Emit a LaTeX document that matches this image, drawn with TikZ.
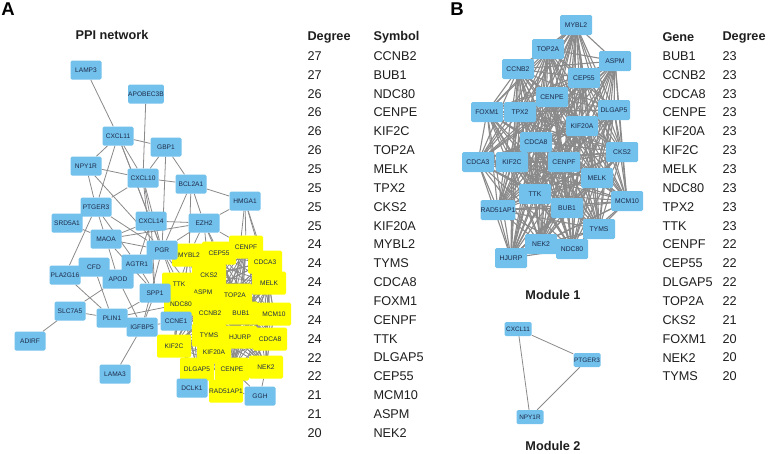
\documentclass[tikz,border=0pt]{standalone}
\usepackage{fontspec}
\setmainfont{Liberation Sans}
\usepackage{xcolor}
\definecolor{cNode}{HTML}{72C0EC}
\definecolor{cHub}{HTML}{FFFF00}
\definecolor{cEdge}{HTML}{8A8A8A}
\definecolor{cText}{HTML}{1C2A48}
\definecolor{cTab}{HTML}{1E1E1E}
\usetikzlibrary{positioning,backgrounds}
\tikzset{
  node-gene/.style={fill=cNode,rounded corners=1.5pt,inner sep=0pt,
    minimum width=31pt,minimum height=19pt,text=cText,
    font=\fontsize{6.6}{7}\selectfont},
  node-hub/.style={node-gene,fill=cHub,minimum width=34pt,minimum height=23pt},
  node-module/.style={node-gene,minimum width=32pt,minimum height=20pt,
    font=\fontsize{6.8}{7}\selectfont},
  node-small/.style={node-gene,minimum width=27pt,minimum height=14pt,
    font=\fontsize{6.4}{7}\selectfont},
  edge/.style={draw=cEdge,line width=0.8pt},
  edge-dense/.style={draw=cEdge,line width=1.1pt},
  tab-head/.style={anchor=west,text=cTab,font=\fontsize{12.7}{14}\selectfont\bfseries},
  tab-cell/.style={anchor=west,text=cTab,font=\fontsize{12.7}{14}\selectfont},
  panel-title/.style={text=cTab,font=\fontsize{12.7}{14}\selectfont\bfseries},
  panel-tag/.style={text=black,font=\fontsize{18.5}{20}\selectfont\bfseries},
}
\def\hubgenes{MYBL2,CEP55,CENPF,CDCA3,CKS2,MELK,TTK,ASPM,TOP2A,NDC80,CCNB2,BUB1,MCM10,TYMS,HJURP,CDCA8,KIF2C,KIF20A,DLGAP5,CENPE,NEK2,RAD51AP1}
\def\modgenes{MYBL2,TOP2A,ASPM,CCNB2,CEP55,CENPE,FOXM1,TPX2,DLGAP5,KIF20A,CDCA8,CKS2,CDCA3,KIF2C,CENPF,MELK,TTK,MCM10,RAD51AP1,BUB1,TYMS,NEK2,NDC80,HJURP}

\begin{document}
\begin{tikzpicture}[x=1pt,y=-1pt]
  \useasboundingbox (0,0) rectangle (774,453);

  % panel A: PPI network
  \node[panel-tag] (tagA) at (8,9) {A};
  \node[panel-title] (titleA) at (112,35) {PPI network};

  \foreach \n/\x/\y in {MYBL2/189/255,CEP55/219/253,CENPF/246/247,CDCA3/265/262,
      CKS2/209/275,MELK/269/283,TTK/179/284,ASPM/203/292,TOP2A/235/295,
      NDC80/181/304,CCNB2/210/313,BUB1/241/313,MCM10/274/314,TYMS/209/335,
      HJURP/240/337,CDCA8/270/339,KIF2C/174/346,KIF20A/214/352,DLGAP5/197/369,
      CENPE/232/369,NEK2/266/367,RAD51AP1/226/391}
    \node[node-hub] (a\n) at (\x,\y) {\n};

  \foreach \n/\x/\y in {LAMP3/86/70,APOBEC3B/146/94,CXCL11/118/136,GBP1/166/147,
      NPY1R/86/166,CXCL10/143/178,BCL2A1/191/184,HMGA1/245/201,PTGER3/96/207,
      SRD5A1/67/223,CXCL14/151/221,EZH2/204/223,MAOA/106/239,PGR/162/250,
      AGTR1/137/264,CFD/94/267,PLA2G16/65/275,APOD/118/279,SPP1/155/293,
      SLC7A5/70/311,PLIN1/112/318,IGFBP5/142/327,CCNE1/176/321,ADIRF/30/341,
      LAMA3/115/374,DCLK1/192/388,GGH/260/396}
    \node[node-gene] (a\n) at (\x,\y) {\n};

  \begin{scope}[on background layer]
    \foreach \u/\v in {LAMP3/CXCL11,APOBEC3B/CXCL10,CXCL11/GBP1,CXCL11/NPY1R,
        CXCL11/CXCL10,CXCL11/PTGER3,CXCL11/CXCL14,CXCL11/PGR,GBP1/CXCL10,
        GBP1/BCL2A1,GBP1/PGR,NPY1R/CXCL10,NPY1R/PTGER3,NPY1R/PGR,CXCL10/BCL2A1,
        CXCL10/PTGER3,CXCL10/CXCL14,CXCL10/PGR,CXCL10/SPP1,BCL2A1/HMGA1,
        BCL2A1/EZH2,BCL2A1/PGR,BCL2A1/MYBL2,HMGA1/EZH2,PTGER3/MAOA,
        PTGER3/PLA2G16,PTGER3/PGR,PTGER3/AGTR1,SRD5A1/MAOA,MAOA/CXCL14,
        MAOA/EZH2,MAOA/PGR,MAOA/APOD,MAOA/SPP1,CXCL14/PGR,CXCL14/EZH2,
        CXCL14/AGTR1,CXCL14/SPP1,EZH2/PGR,AGTR1/APOD,AGTR1/SPP1,AGTR1/PGR,
        CFD/PLIN1,CFD/APOD,PLA2G16/PLIN1,APOD/SLC7A5,APOD/IGFBP5,APOD/PGR,
        SPP1/IGFBP5,SPP1/PLIN1,SLC7A5/PLIN1,SLC7A5/ADIRF,PLIN1/NDC80,
        IGFBP5/LAMA3,IGFBP5/PGR,IGFBP5/CCNE1,PGR/MYBL2,PGR/TTK,PGR/NDC80,
        PGR/CCNB2,SPP1/TTK,SPP1/NDC80,EZH2/MYBL2,EZH2/CEP55,EZH2/CKS2,
        EZH2/CENPF,EZH2/TOP2A,HMGA1/CENPF,HMGA1/CDCA3,HMGA1/MELK,HMGA1/TOP2A,
        CCNE1/NDC80,CCNE1/KIF2C,CCNE1/TTK,CCNE1/TYMS,DCLK1/DLGAP5,DCLK1/KIF20A,
        GGH/NEK2,GGH/CENPE,GGH/RAD51AP1}
      \draw[edge] (a\u) -- (a\v);
    % hub genes all linked
    \foreach \u [count=\i] in \hubgenes {
      \foreach \v [count=\j] in \hubgenes {
        \ifnum\j>\i \draw[edge] (a\u.center) -- (a\v.center); \fi
      }
    }
  \end{scope}

  % degree table
  \node[tab-head] (hDeg) at (304,37) {Degree};
  \node[tab-head] (hSym) at (370,37) {Symbol};
  \foreach \d/\g [count=\i from 0] in {27/CCNB2,27/BUB1,26/NDC80,26/CENPE,
      26/KIF2C,26/TOP2A,25/MELK,25/TPX2,25/CKS2,25/KIF20A,24/MYBL2,24/TYMS,
      24/CDCA8,24/FOXM1,24/CENPF,24/TTK,22/DLGAP5,22/CEP55,21/MCM10,21/ASPM,
      20/NEK2} {
    \node[tab-cell] (dA\i) at (304,56+18.85*\i) {\d};
    \node[tab-cell] (gA\i) at (370,56+18.85*\i) {\g};
  }

  % panel B: modules
  \node[panel-tag] (tagB) at (457,9) {B};

  \foreach \n/\x/\y in {MYBL2/576/25,TOP2A/548/49,ASPM/615/61,CCNB2/518/69,
      CEP55/584/78,CENPE/552/97,FOXM1/487/112,TPX2/520/112,DLGAP5/614/110,
      KIF20A/582/126,CDCA8/536/142,CKS2/622/152,CDCA3/478/162,KIF2C/512/162,
      CENPF/564/162,MELK/597/178,TTK/535/194,MCM10/627/201,RAD51AP1/498/210,
      BUB1/567/208,TYMS/599/229,NEK2/541/244,NDC80/572/249,HJURP/511/258}
    \node[node-module] (m\n) at (\x,\y) {\n};

  \begin{scope}[on background layer]
    \foreach \u [count=\i] in \modgenes {
      \foreach \v [count=\j] in \modgenes {
        \ifnum\j>\i \draw[edge-dense] (m\u.center) -- (m\v.center); \fi
      }
    }
  \end{scope}
  \node[panel-title] (titleM1) at (553,295) {Module 1};

  \node[node-small] (sCXCL11) at (518,329) {CXCL11};
  \node[node-small] (sPTGER3) at (587,360) {PTGER3};
  \node[node-small] (sNPY1R) at (530,417) {NPY1R};
  \begin{scope}[on background layer]
    \draw[edge] (sCXCL11) -- (sPTGER3);
    \draw[edge] (sCXCL11) -- (sNPY1R);
    \draw[edge] (sPTGER3) -- (sNPY1R);
  \end{scope}
  \node[panel-title] (titleM2) at (553,446) {Module 2};

  \node[tab-head] (hGene) at (659,37) {Gene};
  \node[tab-head] (hDegB) at (719,37) {Degree};
  \foreach \g/\d [count=\i from 0] in {BUB1/23,CCNB2/23,CDCA8/23,CENPE/23,
      KIF20A/23,KIF2C/23,MELK/23,NDC80/23,TPX2/23,TTK/23,CENPF/22,CEP55/22,
      DLGAP5/22,TOP2A/22,CKS2/21,FOXM1/20,NEK2/20,TYMS/20} {
    \node[tab-cell] (gB\i) at (659,56+18.85*\i) {\g};
    \node[tab-cell] (dB\i) at (719,56+18.85*\i) {\d};
  }
\end{tikzpicture}
\end{document}
